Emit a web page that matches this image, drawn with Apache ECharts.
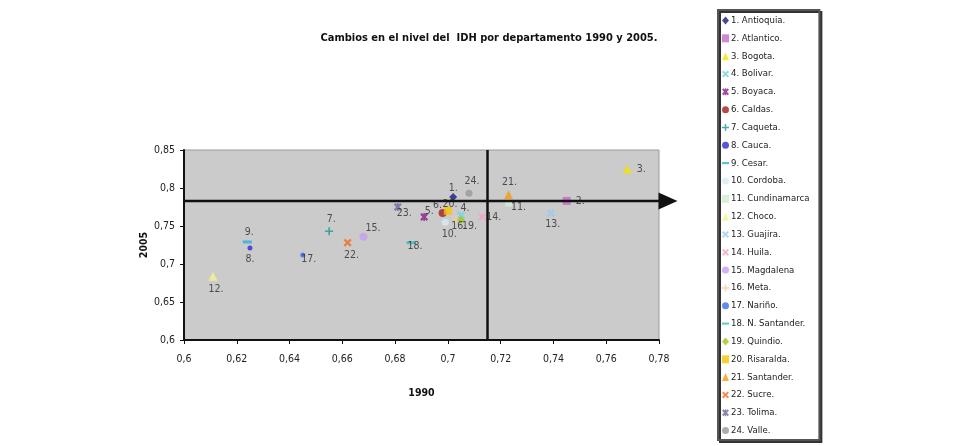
<!DOCTYPE html>
<html><head><meta charset="utf-8">
<script src="https://cdn.jsdelivr.net/npm/echarts@6/dist/echarts.min.js"></script>
<style>html,body{margin:0;padding:0;background:#fff}#c{width:953px;height:446px}</style>
</head><body><div id="c"></div>
<script>
const departments = ["1. Antioquia.","2. Atlantico.","3. Bogota.","4. Bolivar.","5. Boyaca.","6. Caldas.","7. Caqueta.","8. Cauca.","9. Cesar.","10. Cordoba.","11. Cundinamarca","12. Choco.","13. Guajira.","14. Huila.","15. Magdalena","16. Meta.","17. Nariño.","18. N. Santander.","19. Quindio.","20. Risaralda.","21. Santander.","22. Sucre.","23. Tolima.","24. Valle."];
const pointLabels = ["1.","2.","3.","4.","5.","6.","7.","8.","9.","10.","11.","12.","13.","14.","15.","16.","17.","18.","19.","20.","21.","22.","23.","24."];
const idh1990 = [0.702,0.745,0.768,0.705,0.691,0.698,0.655,0.625,0.624,0.699,0.723,0.611,0.739,0.713,0.668,0.703,0.645,0.686,0.705,0.700,0.723,0.662,0.681,0.708];
const idh2005 = [0.788,0.783,0.825,0.764,0.762,0.767,0.743,0.721,0.729,0.755,0.780,0.684,0.767,0.762,0.736,0.759,0.712,0.728,0.758,0.770,0.791,0.728,0.775,0.793];
const mean1990 = 0.715;
const mean2005 = 0.783;
const arrowEnd1990 = 0.787;
const xTicks = {min:0.6, max:0.78, interval:0.02};
const yTicks = {min:0.6, max:0.85, interval:0.05};

const colors = ['#1a1a80','#c46ac4','#f2e400','#70d4dc','#8a1a8a','#a51e1e','#149a9a','#2a2ad0','#2aaee0','#d4eef2','#cfeecf','#f8f290','#9cc8f4','#f4a0c8','#c4a0ec','#f8c898','#3a6af0','#3ac0c0','#98c81a','#f8c400','#f89a10','#f06a1a','#6a6a9c','#989898'];
const X = 'path://M0,2L2,0L5,3L8,0L10,2L7,5L10,8L8,10L5,7L2,10L0,8L3,5Z';
const STAR = 'path://M0,2L2,0L4,2V0H6V2L8,0L10,2L7,5L10,8L8,10L6,8V10H4V8L2,10L0,8L3,5Z';
const PLUS = 'path://M4,0H6V4H10V6H6V10H4V6H0V4H4Z';
const DASH = 'path://M0,0H10V3H0Z';
const symbols = ['diamond','rect','triangle',X,STAR,'circle',PLUS,'circle',DASH,'circle','rect','triangle',X,X,'circle',PLUS,'circle',DASH,'diamond','rect','triangle',X,STAR,'circle'];
const sizes = [8,8,9,8,8,8,8,5,[9,3],7,7,9,8,8,8,8,5,[9,3],8,8,9,8,8,7];
const labelPos = ['top','right','right','top','top','top','top','bottom','top','bottom','right','bottom','bottom','right','right','bottom','right','right','right','top','top','bottom','right','top'];
const labelOff = [[0,6],[0,0],[0,0],[4,7],[5,9],[-5,7],[2,2],[0,-2],[2,2],[4,-2],[-6,4],[3,-2],[2,-3],[-5,0],[-7,-8],[3,-7],[-9,4],[-13,4],[-8,6],[2,8],[1,2],[4,-2],[-10,6],[3,2]];

const font = "'DejaVu Sans Condensed','Liberation Sans',sans-serif";
const fmt = v => String(+v.toFixed(2)).replace('.', ',');

const series = departments.map((name,i)=>({
  name, type:'scatter', data:[[idh1990[i], idh2005[i]]],
  symbol: symbols[i], symbolSize: sizes[i],
  itemStyle:{color: colors[i]},
  label:{show:true, formatter: pointLabels[i], position: labelPos[i], offset: labelOff[i], color:'#2a2a2a', fontSize:10.5, fontFamily:font},
  emphasis:{disabled:true}, z: 3
}));
series.push({
  type:'scatter', data:[], silent:true, z:10,
  markLine:{silent:true, z:10, symbol:['none','none'], label:{show:false},
    lineStyle:{color:'#111', width:2.5, type:'solid'},
    data:[[{coord:[mean1990, yTicks.min]},{coord:[mean1990, yTicks.max]}]]}
});

const chart = echarts.init(document.getElementById('c'), null, {renderer:'canvas'});
chart.setOption({
  animation:false,
  title:{text:'Cambios en el nivel del  IDH por departamento 1990 y 2005.', left:484, textAlign:'center', top:28,
    textStyle:{fontFamily:font, fontWeight:'bold', fontSize:11, color:'#111'}},
  grid:{left:184, right:294, top:150, bottom:106, show:true, backgroundColor:'#cbcbcb', borderColor:'#9a9a9a', borderWidth:1},
  xAxis:{type:'value', min:xTicks.min, max:xTicks.max, interval:xTicks.interval,
    name:'1990', nameLocation:'middle', nameGap:48,
    nameTextStyle:{fontFamily:font, fontWeight:'bold', fontSize:10.5, color:'#111'},
    axisLine:{show:true, onZero:false, lineStyle:{color:'#111', width:2}},
    axisTick:{show:true, length:4, lineStyle:{color:'#111'}},
    axisLabel:{formatter:fmt, fontFamily:font, fontSize:10.5, color:'#222', margin:14},
    splitLine:{show:false}},
  yAxis:{type:'value', min:yTicks.min, max:yTicks.max, interval:yTicks.interval,
    name:'2005', nameLocation:'middle', nameGap:31, nameRotate:90,
    nameTextStyle:{fontFamily:font, fontWeight:'bold', fontSize:10.5, color:'#111'},
    axisLine:{show:true, onZero:false, lineStyle:{color:'#111', width:2}},
    axisTick:{show:true, length:4, lineStyle:{color:'#111'}},
    axisLabel:{formatter:fmt, fontFamily:font, fontSize:10.5, color:'#222', margin:9},
    splitLine:{show:false}},
  legend:{orient:'vertical', left:718, top:10, data:departments,
    backgroundColor:'#fff', borderColor:'#555', borderWidth:2, padding:[5,10,4,4],
    shadowColor:'#333', shadowOffsetX:2, shadowOffsetY:2, shadowBlur:0,
    itemWidth:7, itemHeight:8, itemGap:6.83, selectedMode:false,
    textStyle:{fontFamily:font, fontSize:9.5, color:'#222', lineHeight:11, padding:[0,0,0,-3]}},
  series
});

function drawArrow(){
  const a = chart.convertToPixel({gridIndex:0}, [xTicks.min, mean2005]);
  const b = chart.convertToPixel({gridIndex:0}, [arrowEnd1990, mean2005]);
  const head = 19, half = 8.5;
  chart.setOption({graphic:[
    {type:'line', z:10, shape:{x1:a[0], y1:a[1], x2:b[0]-head+2, y2:b[1]}, style:{stroke:'#111', lineWidth:2.5}},
    {type:'polygon', z:10, shape:{points:[[b[0]-head,b[1]-half],[b[0],b[1]],[b[0]-head,b[1]+half]]}, style:{fill:'#111'}}
  ]});
}
drawArrow();
</script></body></html>
